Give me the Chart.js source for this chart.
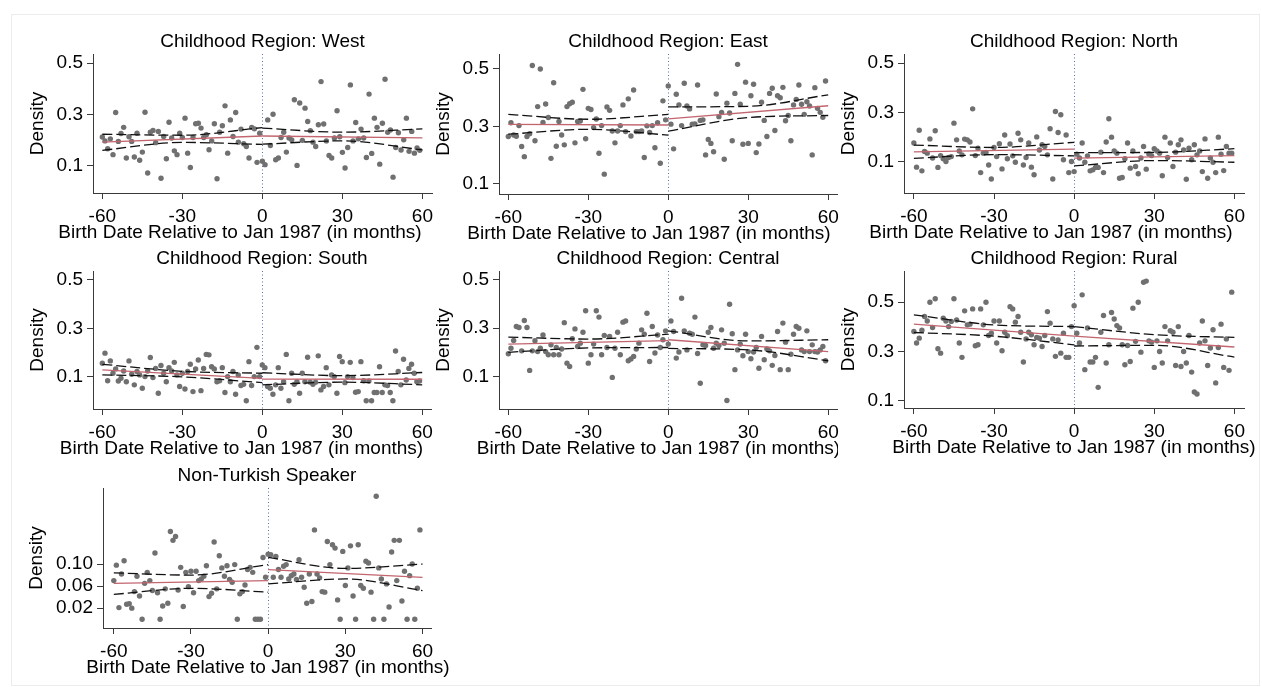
<!DOCTYPE html>
<html>
<head>
<meta charset="utf-8">
<script src="https://cdn.jsdelivr.net/npm/chart.js@4.4.1/dist/chart.umd.min.js"></script>
<style>
    html, body { margin: 0; padding: 0; background: #fff; }
    #stage { position: relative; width: 1262px; height: 687px; overflow: hidden; }
    #frame { position: absolute; left: 11px; top: 14px; width: 1247px; height: 670px; border: 1px solid #ececec; }
</style>
</head>
<body>
<div id="stage"><div id="frame"></div></div>
<script>
// months relative to the January 1987 cutoff
const months = [
    -60,-59,-58,-57,-56,-55,-54,-53,-52,-51,-50,-49,-48,-47,-46,-45,-44,-43,-42,-41,
    -40,-39,-38,-37,-36,-35,-34,-33,-32,-31,-30,-29,-28,-27,-26,-25,-24,-23,-22,-21,
    -20,-19,-18,-17,-16,-15,-14,-13,-12,-11,-10,-9,-8,-7,-6,-5,-4,-3,-2,-1,
    0,1,2,3,4,5,6,7,8,9,10,11,12,13,14,15,16,17,18,19,
    20,21,22,23,24,25,26,27,28,29,30,31,32,33,34,35,36,37,38,39,
    40,41,42,43,44,45,46,47,48,49,50,51,52,53,54,55,56,57,58,59
];
const xTicks = [-60, -30, 0, 30, 60];
const cutoff = 0;
const leftX = [-60, -30, 0];
const rightX = [0, 30, 60];
const fitLeftX = [-60, 0];
const fitRightX = [0, 60];

const westDensity = [
    0.211,0.196,0.165,0.204,0.142,0.307,0.194,0.225,0.249,0.129,
    0.212,0.194,0.133,0.226,0.12,0.152,0.308,0.07,0.23,0.237,
    0.189,0.233,0.05,0.213,0.126,0.269,0.207,0.157,0.142,0.226,
    0.209,0.285,0.148,0.092,0.209,0.263,0.265,0.246,0.209,0.22,
    0.161,0.196,0.263,0.048,0.23,0.255,0.333,0.148,0.278,0.213,
    0.307,0.191,0.242,0.185,0.174,0.129,0.249,0.243,0.112,0.226,
    0.116,0.103,0.278,0.178,0.3,0.122,0.129,0.209,0.23,0.152,
    0.207,0.2,0.357,0.1,0.344,0.198,0.324,0.272,0.236,0.191,
    0.174,0.259,0.428,0.262,0.196,0.139,0.129,0.207,0.314,0.212,
    0.151,0.09,0.17,0.415,0.196,0.268,0.204,0.242,0.207,0.131,
    0.379,0.147,0.285,0.249,0.105,0.265,0.437,0.23,0.239,0.054,
    0.17,0.228,0.16,0.2,0.285,0.155,0.233,0.148,0.168,0.159
];
const westFitLeft = [0.191, 0.215];
const westFitRight = [0.215, 0.208];
const westUpperLeft = [0.222, 0.218, 0.248];
const westLowerLeft = [0.159, 0.19, 0.182];
const westUpperRight = [0.246, 0.23, 0.243];
const westLowerRight = [0.183, 0.196, 0.161];

const eastDensity = [
    0.265,0.313,0.27,0.266,0.303,0.23,0.195,0.265,0.275,0.512,
    0.25,0.369,0.5,0.314,0.378,0.331,0.189,0.452,0.231,0.317,
    0.27,0.236,0.369,0.379,0.384,0.243,0.317,0.319,0.429,0.257,
    0.363,0.359,0.296,0.326,0.207,0.303,0.134,0.368,0.356,0.284,
    0.243,0.284,0.303,0.375,0.282,0.396,0.267,0.427,0.282,0.282,
    0.284,0.192,0.302,0.279,0.303,0.226,0.313,0.172,0.389,0.323,
    0.441,0.308,0.222,0.412,0.375,0.303,0.45,0.371,0.361,0.308,
    0.309,0.444,0.321,0.323,0.201,0.255,0.241,0.212,0.413,0.334,
    0.349,0.186,0.381,0.347,0.25,0.415,0.516,0.377,0.238,0.454,
    0.241,0.407,0.447,0.209,0.239,0.384,0.321,0.265,0.415,0.433,
    0.286,0.407,0.4,0.436,0.32,0.338,0.25,0.375,0.394,0.444,
    0.377,0.342,0.386,0.371,0.201,0.435,0.363,0.349,0.332,0.458
];
const eastFitLeft = [0.307, 0.305];
const eastFitRight = [0.326, 0.372];
const eastUpperLeft = [0.342, 0.325, 0.342];
const eastLowerLeft = [0.273, 0.29, 0.27];
const eastUpperRight = [0.368, 0.37, 0.41];
const eastLowerRight = [0.284, 0.331, 0.338];

const northDensity = [
    0.175,0.077,0.227,0.062,0.141,0.134,0.192,0.114,0.225,0.076,
    0.124,0.111,0.1,0.116,0.12,0.256,0.188,0.143,0.127,0.191,
    0.188,0.179,0.314,0.124,0.154,0.055,0.134,0.137,0.086,0.029,
    0.157,0.12,0.172,0.07,0.208,0.111,0.171,0.123,0.097,0.215,
    0.188,0.086,0.116,0.175,0.077,0.046,0.2,0.147,0.168,0.161,
    0.127,0.233,0.029,0.303,0.218,0.29,0.107,0.208,0.055,0.1,
    0.059,0.13,0.114,0.175,0.097,0.123,0.062,0.066,0.076,0.076,
    0.138,0.055,0.179,0.274,0.199,0.143,0.134,0.032,0.035,0.111,
    0.175,0.073,0.143,0.08,0.05,0.114,0.161,0.069,0.131,0.124,
    0.152,0.143,0.134,0.042,0.199,0.116,0.175,0.08,0.138,0.168,
    0.188,0.147,0.028,0.154,0.107,0.168,0.127,0.143,0.059,0.192,
    0.032,0.114,0.097,0.055,0.199,0.13,0.063,0.161,0.134,0.134
];
const northFitLeft = [0.139, 0.15];
const northFitRight = [0.114, 0.124];
const northUpperLeft = [0.167, 0.157, 0.178];
const northLowerLeft = [0.113, 0.128, 0.123];
const northUpperRight = [0.136, 0.137, 0.152];
const northLowerRight = [0.082, 0.104, 0.097];

const southDensity = [
    0.155,0.197,0.083,0.165,0.114,0.132,0.082,0.093,0.123,0.079,
    0.165,0.11,0.066,0.121,0.107,0.052,0.1,0.123,0.179,0.096,
    0.134,0.031,0.146,0.114,0.079,0.137,0.123,0.159,0.107,0.059,
    0.114,0.049,0.121,0.151,0.038,0.132,0.169,0.042,0.134,0.192,
    0.19,0.141,0.132,0.079,0.083,0.137,0.034,0.1,0.079,0.121,
    0.027,0.107,0.063,0.068,0,0.162,0.063,0.1,0.221,0.1,
    0.148,0.137,0.059,0.052,0.027,0.066,0.137,0.052,0.079,0.192,
    0,0.114,0.068,0.079,0.031,0.114,0.079,0.18,0.077,0.068,
    0.077,0.186,0.045,0.059,0.137,0.066,0.107,0.1,0.031,0.183,
    0.162,0.075,0.1,0.159,0.096,0.035,0.038,0.162,0.083,0,
    0.082,0,0.034,0.034,0.141,0.034,0.066,0.063,0.034,0,
    0.206,0.121,0.066,0.172,0.086,0.134,0.151,0.114,0.079,0.082
];
const southFitLeft = [0.128, 0.093];
const southFitRight = [0.09, 0.089];
const southUpperLeft = [0.151, 0.122, 0.114];
const southLowerLeft = [0.107, 0.099, 0.075];
const southUpperRight = [0.116, 0.104, 0.117];
const southLowerRight = [0.066, 0.077, 0.066];

const centralDensity = [
    0.194,0.217,0.249,0.307,0.303,0.206,0.332,0.303,0.125,0.206,
    0.248,0.203,0.217,0.272,0.203,0.19,0.231,0.19,0.22,0.19,
    0.214,0.323,0.155,0.141,0.256,0.297,0.224,0.238,0.283,0.372,
    0.155,0.19,0.234,0.372,0.346,0.19,0.27,0.22,0.266,0.096,
    0.217,0.283,0.19,0.325,0.33,0.165,0.172,0.183,0.214,0.238,
    0.293,0.275,0.362,0.162,0.307,0.197,0.272,0.22,0.252,0.289,
    0.234,0.33,0.286,0.176,0.201,0.424,0.289,0.21,0.279,0.275,
    0.346,0.195,0.072,0.231,0.228,0.283,0.303,0.217,0.238,0.228,
    0.293,0.238,0,0.399,0.277,0.128,0.21,0.234,0.186,0.275,
    0.203,0.173,0.201,0.22,0.134,0.266,0.169,0.214,0.206,0.146,
    0.187,0.286,0.128,0.321,0.242,0.128,0.192,0.275,0.307,0.3,
    0.21,0.203,0.289,0.203,0.231,0.203,0.201,0.21,0.224,0.165
];
const centralFitLeft = [0.234, 0.248];
const centralFitRight = [0.252, 0.203];
const centralUpperLeft = [0.263, 0.255, 0.275];
const centralLowerLeft = [0.2, 0.218, 0.22];
const centralUpperRight = [0.289, 0.247, 0.252];
const centralLowerRight = [0.216, 0.21, 0.165];

const ruralDensity = [
    0.381,0.334,0.354,0.386,0.442,0.424,0.5,0.397,0.514,0.311,
    0.293,0.435,0.424,0.401,0.422,0.514,0.428,0.334,0.276,0.465,
    0.408,0.411,0.473,0.323,0.327,0.473,0.408,0.5,0.365,0.374,
    0.424,0.334,0.424,0.303,0.378,0.364,0.482,0.473,0.419,0.442,
    0.378,0.257,0.351,0.378,0.368,0.327,0.357,0.354,0.32,0.365,
    0.462,0.415,0.351,0.28,0.347,0.293,0.374,0.276,0.276,0.401,
    0.486,0.374,0.334,0.53,0.226,0.395,0.257,0.257,0.276,0.154,
    0.378,0.446,0.253,0.327,0.458,0.432,0.405,0.395,0.327,0.246,
    0.324,0.259,0.476,0.341,0.5,0.297,0.581,0.586,0.343,0.338,
    0.235,0.343,0.3,0.253,0.401,0.343,0.384,0.378,0.243,0.401,
    0.239,0.3,0.253,0.365,0.216,0.135,0.127,0.334,0.424,0.343,
    0.243,0.314,0.388,0.172,0.316,0.411,0.235,0.351,0.223,0.541
];
const ruralFitLeft = [0.411, 0.362];
const ruralFitRight = [0.362, 0.318];
const ruralUpperLeft = [0.449, 0.408, 0.401];
const ruralLowerLeft = [0.377, 0.362, 0.327];
const ruralUpperRight = [0.401, 0.368, 0.357];
const ruralLowerRight = [0.322, 0.325, 0.277];

const nonTurkishDensity = [
    0.07,0.098,0.021,0.082,0.106,0.027,0.028,0.02,0.05,0.078,
    0.042,0,0.065,0.085,0.07,0.052,0.12,0.048,0,0.024,
    0.055,0.029,0.159,0.143,0.15,0.053,0.094,0.023,0.085,0.059,
    0.087,0.048,0.087,0.07,0.073,0.078,0.097,0.041,0.047,0.14,
    0.055,0.115,0.093,0.078,0.097,0.072,0.067,0.099,0,0.046,
    0.05,0.062,0.09,0.094,0.085,0,0,0,0.112,0.076,
    0.118,0.117,0.076,0.114,0.09,0.076,0.096,0.099,0.073,0.079,
    0.082,0.072,0.108,0.076,0.058,0.029,0.082,0.032,0.162,0.082,
    0.075,0.05,0.049,0.141,0.099,0.135,0.129,0.035,0,0.123,
    0.061,0.093,0.133,0.042,0,0.135,0.061,0.056,0.105,0.102,
    0.049,0,0.223,0.093,0.073,0,0.064,0.022,0.122,0.143,
    0.07,0.143,0.033,0.087,0,0.079,0.1,0,0.056,0.162
];
const nonTurkishFitLeft = [0.065, 0.07];
const nonTurkishFitRight = [0.09, 0.076];
const nonTurkishUpperLeft = [0.084, 0.08, 0.099];
const nonTurkishLowerLeft = [0.045, 0.056, 0.049];
const nonTurkishUpperRight = [0.112, 0.092, 0.1];
const nonTurkishLowerRight = [0.064, 0.073, 0.052];

const xCaption = 'Birth Date Relative to Jan 1987 (in months)';
const yCaption = 'Density';

const FONT_FAMILY = '"Liberation Sans", Arial, Helvetica, sans-serif';
const FONT_SIZE = 19;
const AXIS_COLOR = '#3a3a3a';
const POINT_COLOR = '#707070';
const FIT_COLOR = '#c2656f';
const CUTOFF_COLOR = '#4f72b0';
const TOP_SPACE = 30;
const BOTTOM_SPACE = 56;

Chart.defaults.font.family = FONT_FAMILY;
Chart.defaults.font.size = FONT_SIZE;
Chart.defaults.color = '#000';

// plot: axis box [left, top, right, bottom] on the page
// captionClip: how far past the axis end the x caption may run (null = no limit)
const panels = [
    { title: 'Childhood Region: West', density: westDensity,
      fit: [westFitLeft, westFitRight], upper: [westUpperLeft, westUpperRight], lower: [westLowerLeft, westLowerRight],
      yTicks: [0.1, 0.3, 0.5], digits: 1, yRange: [-0.008, 0.536], xRange: [-63.5, 63.6],
      plot: [93, 54, 432, 193], axisWidth: 70, padRight: 12, captionShift: -22.5, captionClip: null },
    { title: 'Childhood Region: East', density: eastDensity,
      fit: [eastFitLeft, eastFitRight], upper: [eastUpperLeft, eastUpperRight], lower: [eastLowerLeft, eastLowerRight],
      yTicks: [0.1, 0.3, 0.5], digits: 1, yRange: [0.065, 0.552], xRange: [-63.5, 63.3],
      plot: [499, 54, 837, 194], axisWidth: 70, padRight: 12, captionShift: -19, captionClip: null },
    { title: 'Childhood Region: North', density: northDensity,
      fit: [northFitLeft, northFitRight], upper: [northUpperLeft, northUpperRight], lower: [northLowerLeft, northLowerRight],
      yTicks: [0.1, 0.3, 0.5], digits: 1, yRange: [-0.028, 0.537], xRange: [-63.7, 63.6],
      plot: [904, 54, 1244, 193], axisWidth: 70, padRight: 14, captionShift: -23, captionClip: null },
    { title: 'Childhood Region: South', density: southDensity,
      fit: [southFitLeft, southFitRight], upper: [southUpperLeft, southUpperRight], lower: [southLowerLeft, southLowerRight],
      yTicks: [0.1, 0.3, 0.5], digits: 1, yRange: [-0.034, 0.537], xRange: [-63.5, 63.3],
      plot: [93, 271, 431, 409], axisWidth: 70, padRight: 12, captionShift: -20.5, captionClip: null },
    { title: 'Childhood Region: Central', density: centralDensity,
      fit: [centralFitLeft, centralFitRight], upper: [centralUpperLeft, centralUpperRight], lower: [centralLowerLeft, centralLowerRight],
      yTicks: [0.1, 0.3, 0.5], digits: 1, yRange: [-0.035, 0.537], xRange: [-63.5, 63.3],
      plot: [499, 271, 837, 409], axisWidth: 70, padRight: 12, captionShift: -9.5, captionClip: 1 },
    { title: 'Childhood Region: Rural', density: ruralDensity,
      fit: [ruralFitLeft, ruralFitRight], upper: [ruralUpperLeft, ruralUpperRight], lower: [ruralLowerLeft, ruralLowerRight],
      yTicks: [0.1, 0.3, 0.5], digits: 1, yRange: [0.07, 0.627], xRange: [-63.7, 63.6],
      plot: [904, 271, 1244, 408], axisWidth: 70, padRight: 16, captionShift: 0, captionClip: null },
    { title: 'Non-Turkish Speaker', density: nonTurkishDensity,
      fit: [nonTurkishFitLeft, nonTurkishFitRight], upper: [nonTurkishUpperLeft, nonTurkishUpperRight], lower: [nonTurkishLowerLeft, nonTurkishLowerRight],
      yTicks: [0.02, 0.06, 0.10], digits: 2, yRange: [-0.016, 0.238], xRange: [-64.2, 63.3],
      plot: [103, 488, 431, 628], axisWidth: 81, padRight: 26, captionShift: 1, captionClip: null }
];

// panel title, x caption and the dotted cutoff line
const panelText = {
    id: 'panelText',
    beforeDatasetsDraw(chart, args, opts) {
        const { ctx, chartArea } = chart;
        const x = Math.round(chart.scales.x.getPixelForValue(opts.cutoff)) + 0.5;
        ctx.save();
        ctx.strokeStyle = CUTOFF_COLOR;
        ctx.lineWidth = 1;
        ctx.setLineDash([1, 2.5]);
        ctx.beginPath();
        ctx.moveTo(x, chartArea.top);
        ctx.lineTo(x, chartArea.bottom);
        ctx.stroke();
        ctx.restore();
    },
    afterDraw(chart, args, opts) {
        const { ctx, chartArea } = chart;
        const mid = (chartArea.left + chartArea.right) / 2;
        ctx.save();
        ctx.font = FONT_SIZE + 'px ' + FONT_FAMILY;
        ctx.fillStyle = '#000';
        ctx.textAlign = 'center';
        ctx.textBaseline = 'middle';
        ctx.fillText(opts.title, mid, chartArea.top - 12);
        if (opts.captionClip !== null) {
            ctx.beginPath();
            ctx.rect(0, chartArea.bottom, chartArea.right + opts.captionClip, chart.height);
            ctx.clip();
        }
        ctx.fillText(opts.caption, mid + opts.captionShift, chartArea.bottom + 40);
        ctx.restore();
    }
};

function toPoints(xs, ys) {
    return ys.map((y, i) => ({ x: xs[i], y: y }));
}

function bandLine(xs, ys) {
    return {
        data: toPoints(xs, ys),
        showLine: true,
        pointRadius: 0,
        borderColor: '#111',
        borderWidth: 1.3,
        borderDash: [10, 4],
        cubicInterpolationMode: 'monotone',
        fill: false
    };
}

function fitLine(xs, ys) {
    return {
        data: toPoints(xs, ys),
        showLine: true,
        pointRadius: 0,
        borderColor: FIT_COLOR,
        borderWidth: 1.3,
        fill: false
    };
}

const stage = document.getElementById('stage');

panels.forEach(p => {
    const [left, top, right, bottom] = p.plot;
    const w = p.axisWidth + (right - left) + p.padRight;
    const h = TOP_SPACE + (bottom - top) + BOTTOM_SPACE;

    const canvas = document.createElement('canvas');
    canvas.width = w;
    canvas.height = h;
    canvas.style.cssText = `position:absolute;left:${left - p.axisWidth}px;top:${top - TOP_SPACE}px;width:${w}px;height:${h}px;`;
    stage.appendChild(canvas);

    new Chart(canvas.getContext('2d'), {
        type: 'scatter',
        data: {
            datasets: [
                fitLine(fitLeftX, p.fit[0]),
                fitLine(fitRightX, p.fit[1]),
                bandLine(leftX, p.upper[0]),
                bandLine(leftX, p.lower[0]),
                bandLine(rightX, p.upper[1]),
                bandLine(rightX, p.lower[1]),
                {
                    data: toPoints(months, p.density),
                    pointRadius: 2.7,
                    pointBackgroundColor: POINT_COLOR,
                    pointBorderWidth: 0
                }
            ]
        },
        options: {
            responsive: false,
            animation: false,
            devicePixelRatio: 1,
            layout: { padding: { left: 0, top: TOP_SPACE, right: p.padRight, bottom: 0 } },
            plugins: {
                legend: { display: false },
                tooltip: { enabled: false },
                panelText: {
                    title: p.title, caption: xCaption, captionShift: p.captionShift,
                    captionClip: p.captionClip, cutoff: cutoff
                }
            },
            scales: {
                x: {
                    type: 'linear',
                    min: p.xRange[0],
                    max: p.xRange[1],
                    afterBuildTicks: s => { s.ticks = xTicks.map(v => ({ value: v })); },
                    afterFit: s => { s.height = BOTTOM_SPACE; },
                    grid: { drawOnChartArea: false, drawTicks: true, tickLength: 6, color: AXIS_COLOR },
                    border: { display: true, color: AXIS_COLOR, width: 1 },
                    ticks: { padding: 6, maxRotation: 0, color: '#000', callback: v => String(v) }
                },
                y: {
                    type: 'linear',
                    min: p.yRange[0],
                    max: p.yRange[1],
                    afterBuildTicks: s => { s.ticks = p.yTicks.map(v => ({ value: v })); },
                    afterFit: s => { s.width = p.axisWidth; },
                    grid: { drawOnChartArea: false, drawTicks: true, tickLength: 6, color: AXIS_COLOR },
                    border: { display: true, color: AXIS_COLOR, width: 1 },
                    ticks: { padding: 4, color: '#000', callback: v => Number(v).toFixed(p.digits) },
                    title: { display: true, text: yCaption, color: '#000', padding: { top: 3, bottom: 0 } }
                }
            }
        },
        plugins: [panelText]
    });
});
</script>
</body>
</html>
